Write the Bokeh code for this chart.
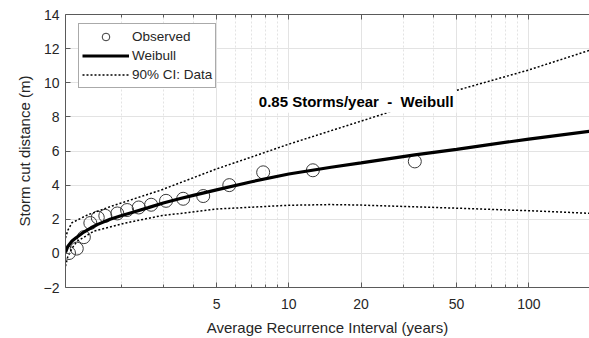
from bokeh.plotting import figure
from bokeh.models import Range1d, FixedTicker, LogAxis, Legend, LegendItem, Label
from bokeh.embed import file_html
from bokeh.resources import INLINE

# ---- data ----
obs_ari = [1.214, 1.308, 1.40, 1.49, 1.60, 1.72, 1.93, 2.12, 2.37, 2.67, 3.08, 3.63, 4.40, 5.65, 7.82, 12.6, 33.5]
obs_cut = [0.02, 0.28, 0.95, 1.78, 2.10, 2.20, 2.34, 2.54, 2.69, 2.85, 3.08, 3.20, 3.36, 4.00, 4.75, 4.87, 5.39]

wb_ari = [1.174, 1.2, 1.25, 1.3, 1.4, 1.5, 1.6, 1.8, 2.0, 2.26, 2.6, 3.0, 3.5, 4.0, 5.0, 7.0, 10.0, 15.0, 20.0, 33.5, 50.0, 100.0, 179.0]
wb_cut = [0.05, 0.40, 0.72, 0.92, 1.25, 1.50, 1.70, 2.00, 2.20, 2.42, 2.68, 2.95, 3.20, 3.40, 3.72, 4.20, 4.65, 5.05, 5.30, 5.77, 6.10, 6.70, 7.15]

up_ari = [1.174, 1.2, 1.25, 1.45, 1.81, 2.92, 5.0, 7.0, 10.0, 20.0, 50.0, 100.0, 179.0]
up_cut = [0.90, 1.35, 1.80, 2.25, 2.75, 3.70, 4.95, 5.65, 6.40, 7.75, 9.55, 10.75, 11.90]

lo_ari = [1.174, 1.2, 1.25, 1.31, 1.54, 2.12, 2.92, 5.0, 10.0, 15.0, 20.0, 50.0, 100.0, 179.0]
lo_cut = [-0.75, -0.20, 0.30, 0.70, 1.30, 1.80, 2.20, 2.60, 2.82, 2.86, 2.83, 2.65, 2.50, 2.35]

x_major = [5, 10, 20, 50, 100]
x_labels = ["5", "10", "20", "50", "100"]
x_minor = [2, 3, 4, 6, 7, 8, 9, 30, 40, 60, 70, 80, 90]
y_ticks = [-2, 0, 2, 4, 6, 8, 10, 12, 14]

FONT = "Liberation Sans"
TXT = "#262626"
AX = "#5a5a5a"

p = figure(width=589, height=338, x_axis_type="log",
           x_range=Range1d(1.174, 179), y_range=Range1d(-2, 14),
           output_backend="svg", toolbar_location=None,
           min_border_left=65, min_border_top=14, min_border_right=0, min_border_bottom=51)
p.outline_line_color = None
p.background_fill_color = "white"

xt = FixedTicker(ticks=x_major, minor_ticks=x_minor)
yt = FixedTicker(ticks=y_ticks)

xa = p.xaxis[0]
xa.ticker = xt
xa.major_label_overrides = {v: s for v, s in zip(x_major, x_labels)}
xa.axis_label = "Average Recurrence Interval (years)"
ya = p.yaxis[0]
ya.ticker = yt
ya.axis_label = "Storm cut distance (m)"

for ax in (xa, ya):
    ax.axis_line_color = AX
    ax.major_tick_line_color = AX
    ax.minor_tick_line_color = AX
    ax.major_tick_in = 5
    ax.major_tick_out = 0
    ax.minor_tick_in = 3
    ax.minor_tick_out = 0
    ax.major_label_text_font = FONT
    ax.major_label_text_font_size = "14px"
    ax.major_label_text_color = TXT
    ax.axis_label_text_font = FONT
    ax.axis_label_text_font_size = "15px"
    ax.axis_label_text_font_style = "normal"
    ax.axis_label_text_color = TXT
xa.major_label_standoff = 11
xa.axis_label_standoff = 7
ya.major_label_standoff = 6
ya.axis_label_standoff = 8
ya.minor_tick_line_color = None

top = LogAxis(ticker=xt, major_label_text_font_size="0px", major_label_standoff=0,
              axis_line_color=AX, major_tick_line_color=AX, minor_tick_line_color=AX,
              major_tick_in=5, major_tick_out=0, minor_tick_in=3, minor_tick_out=0)
top.major_label_overrides = {v: "" for v in x_major}
p.add_layout(top, "above")

p.xgrid.grid_line_color = "#e3e3e3"
p.xgrid.minor_grid_line_color = "#e3e3e3"
p.xgrid.minor_grid_line_dash = "2 2"
p.ygrid.grid_line_color = "#e3e3e3"
p.ygrid.ticker = yt
p.xgrid.ticker = xt

r_obs = p.scatter(obs_ari, obs_cut, marker="circle", size=13, fill_color=None,
                  line_color="#3a3a3a", line_width=1)
r_wb = p.line(wb_ari, wb_cut, line_width=3.2, line_color="black")
r_up = p.line(up_ari, up_cut, line_width=1.5, line_color="black", line_dash="2 2")
r_lo = p.line(lo_ari, lo_cut, line_width=1.5, line_color="black", line_dash="2 2")

lab = Label(x=19.1, y=8.91, text="0.85 Storms/year\u00a0\u00a0-\u00a0\u00a0Weibull",
            text_font=FONT, text_font_size="15px", text_font_style="bold",
            text_color="black", text_align="center", text_baseline="middle",
            background_fill_color="white", padding=3)
p.add_layout(lab)

legend = Legend(items=[LegendItem(label="Observed", renderers=[r_obs]),
                       LegendItem(label="Weibull", renderers=[r_wb]),
                       LegendItem(label="90% CI: Data", renderers=[r_up])],
                location=(13, 199), padding=3, spacing=0, margin=0,
                glyph_width=47, glyph_height=19, label_height=19, label_standoff=3,
                label_text_font=FONT, label_text_font_size="13.5px", label_text_color=TXT,
                border_line_color="#555555", border_line_width=1,
                background_fill_color="white", background_fill_alpha=1)
p.add_layout(legend)

open("out.html", "w").write(file_html(p, INLINE))
